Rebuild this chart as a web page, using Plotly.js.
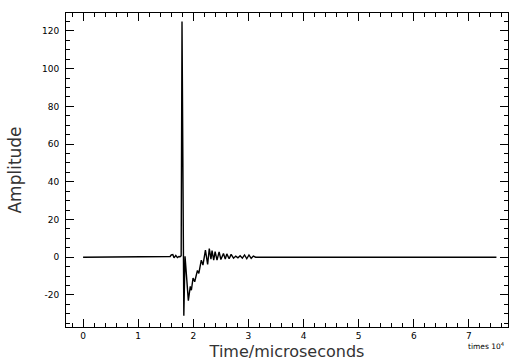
<!DOCTYPE html>
<html>
<head>
<meta charset="utf-8">
<script src="https://cdn.plot.ly/plotly-3.0.1.min.js"></script>
<style>html,body{margin:0;padding:0;background:#fff;}#plot{width:511px;height:364px;}</style>
</head>
<body>
<div id="plot"></div>
<script>
// Time in microseconds
var timeUs = [0, 15500, 15800, 16000, 16280, 16500, 16820, 17110, 17400, 17600, 17800,
  17950, 18280, 18500, 19100, 19450, 19650, 19950, 20250, 20750, 21000, 21450, 21750,
  22200, 22600, 22900, 23200, 23400, 23700, 23960, 24300, 24680, 25000, 25470, 25800,
  26080, 26500, 26860, 27300, 27700, 28100, 28500, 28900, 29300, 29700, 30100, 30500,
  30900, 31300, 75000];
var amplitude = [0, 0, 0.4, 1.2, 1.4, -0.3, 1.0, -0.2, 0.4, 0.3, 0.8,
  125, -31, 0.5, -23, -15.5, -17.5, -11, -13, -7, -8.6, -1.6, -4.2,
  3.8, -3.8, 4.6, -1.0, 3.5, -1.5, 3.0, -1.5, 2.8, -1.2, 2.0, -1.0,
  1.8, -0.8, 1.5, -0.5, 0.6, -0.3, 0.8, -0.5, 1.2, -0.8, 1.2, -0.6,
  0.6, 0, 0];
var xTickVals = [0, 10000, 20000, 30000, 40000, 50000, 60000, 70000];
var xTickText = ['0', '1', '2', '3', '4', '5', '6', '7'];
var yTickVals = [-20, 0, 20, 40, 60, 80, 100, 120];
var yTickText = ['-20', '0', '20', '40', '60', '80', '100', '120'];

var trace = {
  x: timeUs, y: amplitude, type: 'scatter', mode: 'lines',
  line: {color: '#000', width: 1.4}, hoverinfo: 'none'
};
var axisCommon = {
  showline: true, linecolor: '#000', linewidth: 1, mirror: 'allticks',
  ticks: 'inside', ticklen: 8, tickwidth: 1, tickcolor: '#000',
  showgrid: false, zeroline: false,
  tickfont: {family: 'DejaVu Sans', size: 9, color: '#000'}
};
var layout = {
  width: 511, height: 364,
  margin: {l: 66, r: 3, t: 13, b: 37},
  paper_bgcolor: '#fff', plot_bgcolor: '#fff',
  showlegend: false,
  xaxis: Object.assign({}, axisCommon, {
    range: [-3100, 77100], tickmode: 'array', tickvals: xTickVals, ticktext: xTickText,
    ticklabelstandoff: 0,
    minor: {dtick: 2000, ticks: 'inside', ticklen: 4, tickcolor: '#000', showgrid: false},
    title: {text: 'Time/microseconds', font: {family: 'DejaVu Sans', size: 16, color: '#333'}, standoff: 6}
  }),
  yaxis: Object.assign({}, axisCommon, {
    range: [-37, 129.5], tickmode: 'array', tickvals: yTickVals, ticktext: yTickText,
    ticklabelstandoff: 4,
    minor: {dtick: 5, ticks: 'inside', ticklen: 4, tickcolor: '#000', showgrid: false},
    title: {text: 'Amplitude', font: {family: 'DejaVu Sans', size: 17, color: '#333'}, standoff: 16}
  }),
  annotations: [{
    xref: 'paper', yref: 'paper', x: 1, y: 0, xanchor: 'right', yanchor: 'top',
    yshift: -12, xshift: -1, showarrow: false,
    text: 'times 10<sup>4</sup>', font: {family: 'DejaVu Sans', size: 7.5, color: '#000'}
  }]
};
Plotly.newPlot('plot', [trace], layout, {staticPlot: true, displayModeBar: false});
</script>
</body>
</html>
